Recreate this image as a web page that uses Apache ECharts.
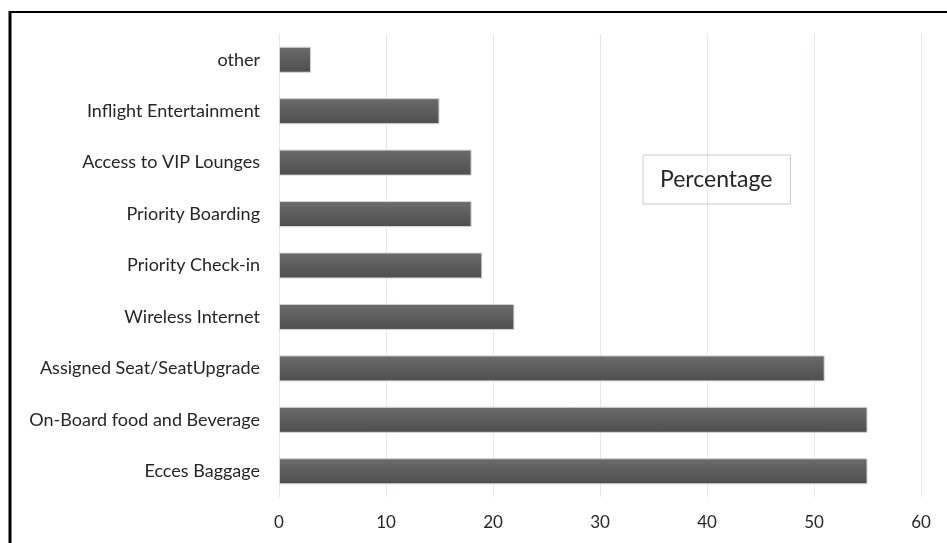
<!DOCTYPE html>
<html>
<head>
<meta charset="utf-8">
<script src="https://cdn.jsdelivr.net/npm/echarts@6/dist/echarts.min.js"></script>
<style>
html,body{margin:0;padding:0;background:#fff;}
#chart{width:947px;height:543px;}
</style>
</head>
<body>
<div id="chart"></div>
<script>
const categories = ["Ecces Baggage","On-Board food and Beverage","Assigned Seat/SeatUpgrade","Wireless Internet","Priority Check-in","Priority Boarding","Access to VIP Lounges","Inflight Entertainment","other"];
const percentage = [55, 55, 51, 22, 19, 18, 18, 15, 3];
const seriesName = "Percentage";

const chart = echarts.init(document.getElementById('chart'));
const font = 'Lato, "Open Sans", sans-serif';
chart.setOption({
  animation: false,
  backgroundColor: '#fff',
  grid: {left: 279, right: 26, top: 34, bottom: 46, containLabel: false},
  legend: {
    data: [{name: seriesName, icon: 'none'}],
    left: 643, top: 155,
    itemWidth: 0, itemHeight: 0,
    padding: [13, 18, 13, 12],
    borderColor: '#c8c8c8', borderWidth: 1,
    textStyle: {fontFamily: font, fontSize: 23, color: '#262626'},
    selectedMode: false
  },
  xAxis: {
    type: 'value', min: 0, max: 60, interval: 10,
    axisLine: {show: false}, axisTick: {show: false},
    splitLine: {show: true, lineStyle: {color: '#e3e8ef', width: 1}},
    axisLabel: {fontFamily: font, fontSize: 17, color: '#262626', margin: 17}
  },
  yAxis: {
    type: 'category', data: categories,
    axisLine: {show: true, lineStyle: {color: '#e3e8ef', width: 1}},
    axisTick: {show: false},
    axisLabel: {fontFamily: font, fontSize: 18, color: '#262626', margin: 19}
  },
  series: [{
    name: seriesName, type: 'bar', data: percentage, barWidth: 26,
    itemStyle: {
      color: new echarts.graphic.LinearGradient(0, 0, 0, 1, [
        {offset: 0, color: '#6c6c6c'}, {offset: 1, color: '#4e4e4e'}
      ]),
      borderColor: '#d4d4d4', borderWidth: 1
    }
  }],
  graphic: [
    {type: 'line', shape: {x1: 10, y1: 12, x2: 947, y2: 12}, style: {stroke: '#000', lineWidth: 2}},
    {type: 'line', shape: {x1: 10, y1: 11, x2: 10, y2: 543}, style: {stroke: '#000', lineWidth: 3}}
  ]
});
</script>
</body>
</html>
